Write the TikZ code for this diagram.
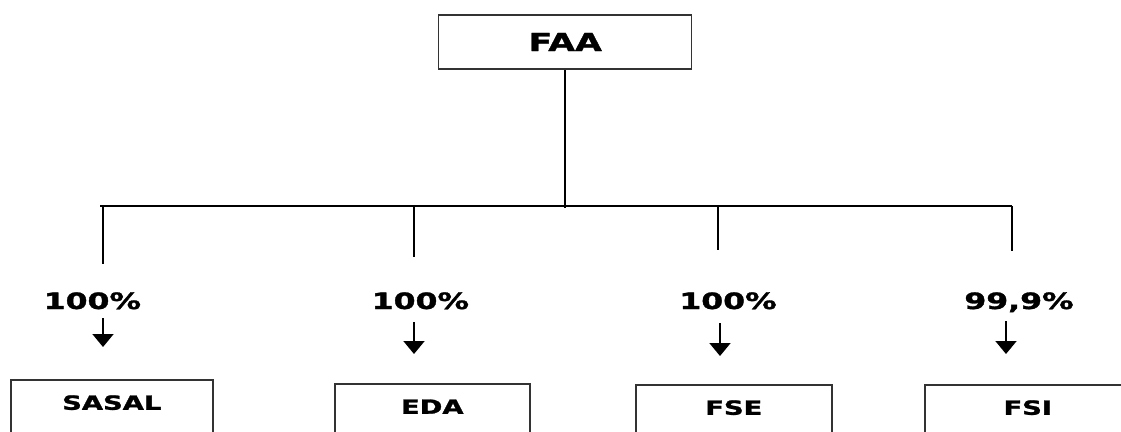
\documentclass[tikz,border=0pt]{standalone}
\usepackage{fontspec}
\setmainfont{DejaVu Sans}[BoldFeatures={FakeBold=1.3}]
\usepackage{graphicx}
\usetikzlibrary{arrows.meta}
\newcommand{\stretchtxt}[1]{\scalebox{1.4}[1]{#1}}

\begin{document}
\begin{tikzpicture}[
  top/.style={draw=black!80,line width=1.1pt,minimum width=6.325cm,
    minimum height=1.35cm,font=\fontsize{17.6}{20}\selectfont\bfseries},
  sub/.style={draw=black!80,line width=1.1pt,anchor=north west,inner ysep=0pt,
    text height=0.75cm,text depth=1.6cm,font=\fontsize{13.9}{16}\selectfont\bfseries},
  pct/.style={anchor=base,font=\fontsize{16}{18}\selectfont\bfseries},
  tree/.style={line width=1.3pt},
  >={Triangle[width=0.52cm,length=0.32cm]}
]
\useasboundingbox (0,0) rectangle (28.025,-10.8);
%% holding company
\node[top] (faa) at (14.13,-1.05) {\stretchtxt{FAA}};
\coordinate (hub) at (14.13,-5.2);
\draw[tree] (faa) -- (hub);
%% branch line
\coordinate (hl) at (2.5,-5.15);
\coordinate (hr) at (25.3,-5.15);
\draw[tree] (hl) -- (hr);
\coordinate (d1t) at (2.575,-5.15);  \coordinate (d1b) at (2.575,-6.6);
\coordinate (d2t) at (10.35,-5.15);  \coordinate (d2b) at (10.35,-6.425);
\coordinate (d3t) at (17.95,-5.15);  \coordinate (d3b) at (17.95,-6.25);
\coordinate (d4t) at (25.3,-5.15);   \coordinate (d4b) at (25.3,-6.275);
\draw[tree] (d1t) -- (d1b);
\draw[tree] (d2t) -- (d2b);
\draw[tree] (d3t) -- (d3b);
\draw[tree] (d4t) -- (d4b);
%% shares
\node[pct] (p1) at (2.31,-7.725) {\stretchtxt{100\%}};
\node[pct] (p2) at (10.51,-7.725) {\stretchtxt{100\%}};
\node[pct] (p3) at (18.2,-7.725) {\stretchtxt{100\%}};
\node[pct] (p4) at (25.475,-7.725) {\stretchtxt{99,9\%}};
\coordinate (a1s) at (2.575,-7.95);  \coordinate (a1e) at (2.575,-8.675);
\coordinate (a2s) at (10.35,-8.05);  \coordinate (a2e) at (10.35,-8.85);
\coordinate (a3s) at (18.0,-8.075);  \coordinate (a3e) at (18.0,-8.9);
\coordinate (a4s) at (25.15,-8.025); \coordinate (a4e) at (25.15,-8.85);
\draw[->,line width=1pt] (a1s) -- (a1e);
\draw[->,line width=1pt] (a2s) -- (a2e);
\draw[->,line width=1pt] (a3s) -- (a3e);
\draw[->,line width=1pt] (a4s) -- (a4e);
%% subsidiaries
\node[sub,minimum width=5.05cm] (sasal) at (0.25,-9.475) {\stretchtxt{SASAL}};
\node[sub,minimum width=4.875cm] (eda) at (8.35,-9.575) {\stretchtxt{EDA}};
\node[sub,minimum width=4.9cm] (fse) at (15.875,-9.6) {\stretchtxt{FSE}};
\node[sub,minimum width=5.15cm] (fsi) at (23.1,-9.6) {\stretchtxt{FSI}\hspace{0.45cm}};
\end{tikzpicture}
\end{document}
